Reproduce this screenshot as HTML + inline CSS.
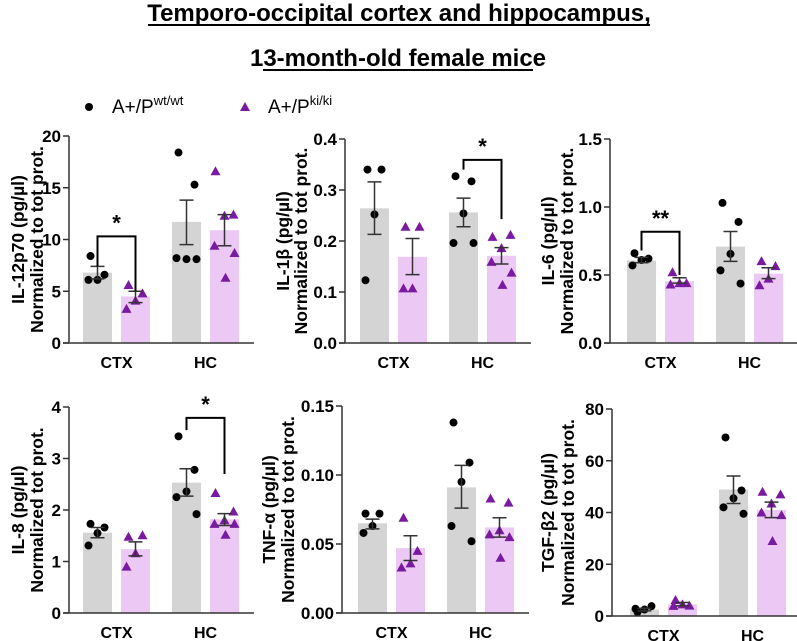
<!DOCTYPE html>
<html><head><meta charset="utf-8"><style>
html,body{margin:0;padding:0;background:#fff;}
svg{display:block;font-family:"Liberation Sans",Arial,sans-serif;}
</style></head><body>
<svg id="fig" width="797" height="641" viewBox="0 0 797 641">
<text x="399" y="21" text-anchor="middle" font-size="24" font-weight="bold">Temporo-occipital cortex and hippocampus,</text>
<line x1="148" y1="25" x2="650" y2="25" stroke="#000" stroke-width="2"/>
<text x="398" y="66" text-anchor="middle" font-size="24" font-weight="bold">13-month-old female mice</text>
<line x1="263" y1="70" x2="533" y2="70" stroke="#000" stroke-width="2"/>
<g>
<circle cx="89" cy="107" r="4" fill="#000"/>
<text x="112" y="113" font-size="19">A+/P<tspan font-size="13" dy="-8">wt/wt</tspan></text>
<polygon points="245,102 250,111 240,111" fill="#7a1aa0"/>
<text x="268" y="113" font-size="19">A+/P<tspan font-size="13" dy="-8">ki/ki</tspan></text>
</g>
</svg>
<script>
const il12Means=[6.8,4.5,11.7,10.9];
const il12Err=[[6.2,7.4],[3.9,5.0],[9.5,13.8],[9.4,12.4]];
const il12Pts=[[8.4,6.6,6.1,6.1],[5.6,4.8,4.1,3.3],[18.4,15.3,8.1,8.2,8.1],[16.6,12.4,12.3,9.4,8.7,6.3]];
const il1bMeans=[0.264,0.169,0.256,0.171];
const il1bErr=[[0.213,0.316],[0.134,0.205],[0.228,0.284],[0.155,0.187]];
const il1bPts=[[0.340,0.340,0.252,0.123],[0.228,0.228,0.107,0.107],[0.327,0.317,0.254,0.196,0.196],[0.208,0.212,0.186,0.159,0.138,0.114]];
const il6Means=[0.607,0.454,0.709,0.51];
const il6Err=[[0.59,0.63],[0.44,0.48],[0.60,0.82],[0.473,0.553]];
const il6Pts=[[0.66,0.62,0.61,0.57],[0.52,0.44,0.44,0.43],[1.03,0.89,0.655,0.534,0.437],[0.602,0.565,0.473,0.425]];
const il8Means=[1.56,1.24,2.53,1.82];
const il8Err=[[1.46,1.66],[1.11,1.38],[2.27,2.80],[1.70,1.93]];
const il8Pts=[[1.73,1.66,1.55,1.31],[1.48,1.51,1.16,0.90],[3.43,2.78,2.36,2.25,1.92],[2.33,1.97,1.80,1.73,1.73,1.52]];
const tnfMeans=[0.065,0.047,0.091,0.062];
const tnfErr=[[0.061,0.068],[0.038,0.056],[0.076,0.107],[0.055,0.069]];
const tnfPts=[[0.072,0.072,0.063,0.058],[0.069,0.045,0.036,0.033],[0.138,0.109,0.095,0.063,0.052],[0.083,0.080,0.060,0.057,0.055,0.040]];
const tgfMeans=[2.5,4.5,48.9,41];
const tgfErr=[[2.0,3.0],[3.9,5.2],[43.5,54.1],[38,44]];
const tgfPts=[[1.5,3.8,2.5,2.8],[6.2,4.0,4.5,3.9],[69,48.5,45.5,42,39.5],[48,47,43.5,40,39,29]];
const groupLabels=["CTX","HC"];
const ticks1=[0,5,10,15,20],ticks2=["0.0","0.1","0.2","0.3","0.4"],ticks3=["0.0","0.5","1.0","1.5"];
const ticks4=[0,1,2,3,4],ticks5=["0.00","0.05","0.10","0.15"],ticks6=[0,20,40,60,80];

const NS="http://www.w3.org/2000/svg";
const svg=document.getElementById('fig');
function mk(tag,attrs,parent){const e=document.createElementNS(NS,tag);for(const k in attrs)e.setAttribute(k,attrs[k]);(parent||svg).appendChild(e);return e;}
const jit={4:[-7,7,0,-9],5:[-8,8,0,-10,10],6:[-9,9,0,-10,10,1]};
function panel(cfg){
  const g=mk('g',{});
  
  
  const max=cfg.max;
  const y=v=>cfg.bot-(v/max)*(cfg.bot-cfg.top);
  const bx=[cfg.ax+cfg.off,cfg.ax+cfg.off+38,cfg.ax+cfg.off+89,cfg.ax+cfg.off+127];
  const bw=29;
  for(let i=0;i<4;i++){
    const r=mk('rect',{x:bx[i],y:y(cfg.means[i]),width:bw,height:cfg.bot-y(cfg.means[i]),fill:i%2?'#ecc9f5':'#d4d4d4'},g);
    
    
  }
  for(let i=0;i<4;i++){
    const c=bx[i]+bw/2, pts=cfg.pts[i], jj=jit[pts.length]||[0];
    pts.forEach((v,k)=>{
      const px=c+(jj[k]||0), py=y(v);
      let m;
      if(i%2===0) m=mk('circle',{cx:px,cy:py,r:4,fill:'#000'},g);
      else m=mk('polygon',{points:`${px},${py-5} ${px+5},${py+4} ${px-5},${py+4}`,fill:'#7a1aa0'},g);
      
      
    });
    const [lo,hi]=cfg.err[i];
    const e=mk('path',{d:`M${c},${y(lo)}V${y(hi)}M${c-7},${y(lo)}H${c+7}M${c-7},${y(hi)}H${c+7}`,stroke:'#333',fill:'none','stroke-width':1.5},g);
    
    
  }
  const ax=mk('path',{d:`M${cfg.ax},${cfg.top}V${cfg.bot}M${cfg.ax-6},${cfg.bot}H${bx[3]+bw+15}`,stroke:'#333',fill:'none','stroke-width':1.5},g);
  
  
  cfg.ticks.forEach((t,k)=>{
    const ty=y(parseFloat(t));
    mk('line',{x1:cfg.ax-6,x2:cfg.ax,y1:ty,y2:ty,stroke:'#333','stroke-width':1.5},g);
    const tl=mk('text',{x:cfg.ax-8,y:ty+6,'text-anchor':'end','font-size':17,'font-weight':'bold'},g);
    tl.textContent=t;
    
    
  });
  groupLabels.forEach((l,k)=>{
    const cx=(bx[2*k]+bx[2*k+1]+bw)/2;
    const t=mk('text',{x:cx,y:cfg.bot+25,'text-anchor':'middle','font-size':16,'font-weight':'bold'},g);
    t.textContent=l;
    
    
  });
  const mid=(cfg.top+cfg.bot)/2;
  cfg.ylab.forEach((l,k)=>{
    const lx=cfg.labx[k];
    const t=mk('text',{x:lx,y:mid,transform:`rotate(-90 ${lx} ${mid})`,'text-anchor':'middle','dominant-baseline':'central','font-size':17.5,'font-weight':'bold'},g);
    t.textContent=l;
    
    
  });
  if(cfg.sig){
    const s=cfg.sig, c1=bx[s.a]+bw/2, c2=bx[s.a+1]+bw/2;
    const br=mk('path',{d:`M${c1},${y(s.l)}V${y(s.top)}H${c2}V${y(s.r)}`,stroke:'#000',fill:'none','stroke-width':2},g);
    
    
    const st=mk('text',{x:(c1+c2)/2,y:y(s.top)-6,'text-anchor':'middle','font-size':22,'font-weight':'bold'},g);
    st.textContent=s.txt;
    
    
  }
}
const NT="Normalized to tot prot.";
panel({name:'panel-il12p70',ax:69,off:14,top:136,bot:343,max:20,ticks:ticks1.map(String),means:il12Means,err:il12Err,pts:il12Pts,ylab:["IL-12p70 (pg/µl)",NT],labx:[18,37],sig:{a:0,top:10.3,l:7.4,r:5.0,txt:'*'}});
panel({name:'panel-il1b',ax:345,off:15,top:139,bot:343,max:0.4,ticks:ticks2,means:il1bMeans,err:il1bErr,pts:il1bPts,ylab:["IL-1β (pg/µl)",NT],labx:[283,301],sig:{a:2,top:0.359,l:0.34,r:0.243,txt:'*'}});
panel({name:'panel-il6',ax:610,off:17,top:139,bot:343,max:1.5,ticks:ticks3,means:il6Means,err:il6Err,pts:il6Pts,ylab:["IL-6 (pg/µl)",NT],labx:[548,567],sig:{a:0,top:0.818,l:0.68,r:0.50,txt:'**'}});
panel({name:'panel-il8',ax:69,off:14,top:407,bot:613,max:4,ticks:ticks4.map(String),means:il8Means,err:il8Err,pts:il8Pts,ylab:["IL-8 (pg/µl)","Normalized tot prot."],labx:[18,37],sig:{a:2,top:3.79,l:3.55,r:2.7,txt:'*'}});
panel({name:'panel-tnfa',ax:342,off:16,top:406,bot:613,max:0.15,ticks:ticks5,means:tnfMeans,err:tnfErr,pts:tnfPts,ylab:["TNF-α (pg/µl)",NT],labx:[269,288]});
panel({name:'panel-tgfb2',ax:612,off:18,top:409,bot:616,max:80,ticks:ticks6.map(String),means:tgfMeans,err:tgfErr,pts:tgfPts,ylab:["TGF-β2 (pg/µl)",NT],labx:[548,568]});
</script>
</body></html>
